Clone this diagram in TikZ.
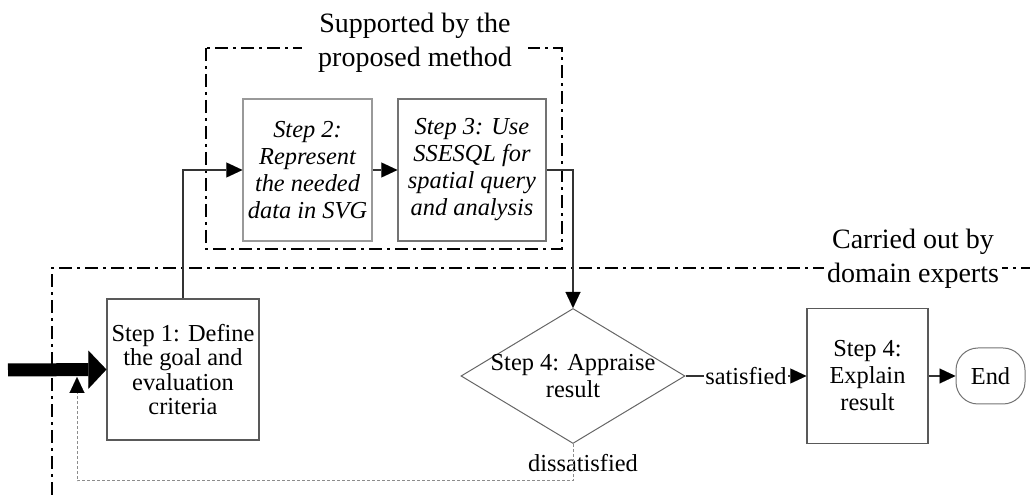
\documentclass[tikz,border=0pt]{standalone}
\usepackage{fontspec}
\setmainfont{Liberation Serif}
\usetikzlibrary{arrows.meta,shapes.geometric}

\begin{document}
\begin{tikzpicture}[x=0.5bp,y=-0.5bp,
 every node/.style={font=\fontsize{12.2bp}{13.5bp}\selectfont,align=center,inner sep=0pt},
 stepbox/.style={draw=black!65,line width=0.6bp},
 region/.style={line width=1bp,dash pattern=on 6.5bp off 2.5bp on 1.5bp off 2.5bp},
 flow/.style={draw=black!80,line width=0.6bp,-{Triangle[length=8bp,width=7.5bp,line width=0.01bp,color=black,fill=black]}},
 caption/.style={fill=white,font=\fontsize{14bp}{17bp}\selectfont}]
 \useasboundingbox (0,0) rectangle (1030,495);
 \draw[region] (206,48) rectangle (562,249);
 \draw[region] (52,495) -- (52,268) -- (1030,268);
 \node[caption,inner xsep=8bp,inner ysep=1bp] (support) at (415,43) {Supported by the\\proposed method};
 \node[caption,inner xsep=1.5bp,inner ysep=1bp] (experts) at (913,259) {Carried out by\\domain experts};
 \node[stepbox,minimum width=76bp,minimum height=70.5bp,font=\fontsize{12.2bp}{12.3bp}\selectfont] (define) at (183,369.5) {Step 1: Define\\the goal and\\evaluation\\criteria};
 \node[stepbox,draw=black!40,minimum width=64.5bp,minimum height=71bp,font=\fontsize{12.2bp}{13.5bp}\selectfont\itshape] (represent) at (307.5,170) {Step 2:\\Represent\\the needed\\data in SVG};
 \node[stepbox,draw=black!55,minimum width=74bp,minimum height=71bp,font=\fontsize{12.2bp}{13.5bp}\selectfont\itshape] (query) at (472,170) {Step 3: Use\\SSESQL for\\spatial query\\and analysis};
 \node[diamond,draw=black!60,line width=0.5bp,aspect=1.66,inner sep=-3bp,minimum width=112bp,minimum height=67.5bp] (appraise) at (573,376) {Step 4: Appraise\\result};
 \node[stepbox,minimum width=60.5bp,minimum height=67.5bp] (explain) at (867.5,376) {Step 4:\\Explain\\result};
 \node[draw=black!55,line width=0.5bp,rounded corners=11bp,minimum width=34.5bp,minimum height=28bp] (end) at (990.5,376) {End};
 \node (unsat) at (583,463) {dissatisfied};
 \coordinate (entry) at (8,370);
 \coordinate (loop) at (77,377);
 \draw[line width=6.5bp,-{Triangle[length=9bp,width=19bp,line width=0.01bp]}] (entry) -- (define.west);
 \draw[flow] (define.north) |- (represent.west);
 \draw[flow] (represent.east) -- (query.west);
 \draw[flow] (query.east) -| (appraise.north);
 \draw[flow] (appraise.east) -- node[fill=white,inner xsep=0.8bp,inner ysep=1bp] (sat) {satisfied} (explain.west);
 \draw[flow] (explain.east) -- (end.west);
 \draw[flow,draw=black!45,line width=0.5bp,dash pattern=on 1.5bp off 1bp] (appraise.south) -- ++(0,37) -| (loop);
\end{tikzpicture}
\end{document}
